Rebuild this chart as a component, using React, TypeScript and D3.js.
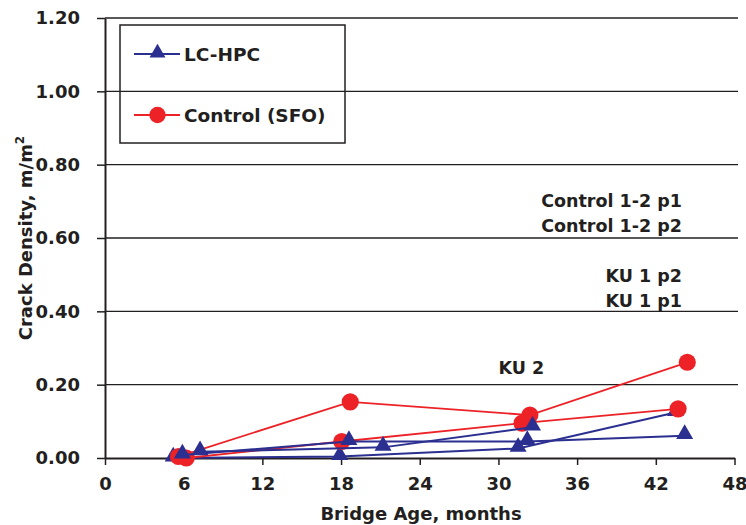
import React, { useRef, useEffect } from "react";
import * as d3 from "d3";

// x ticks (months) and y ticks (crack density)
const monthTicks = [0, 6, 12, 18, 24, 30, 36, 42, 48];
const densityTicks = [0, 0.2, 0.4, 0.6, 0.8, 1.0, 1.2];

// LC-HPC placements
const lcA_months = [5.2, 17.9, 31.5, 43.5];
const lcA_density = [0.0, 0.004, 0.026, 0.124];
const lcB_months = [5.9, 18.6, 32.2, 44.2];
const lcB_density = [0.008, 0.045, 0.045, 0.061];
const lcC_months = [7.25, 21.2, 32.6];
const lcC_density = [0.017, 0.029, 0.084];

// Control (SFO) placements
const ctlA_months = [5.6, 18.7, 32.4, 44.4];
const ctlA_density = [0.004, 0.153, 0.117, 0.261];
const ctlB_months = [6.2, 18.05, 31.8, 43.7];
const ctlB_density = [0.0, 0.045, 0.095, 0.134];

const noteLabels = ["Control 1-2 p1", "Control 1-2 p2", "KU 1 p2", "KU 1 p1", "KU 2"];

const BLUE = "#2b2f8f";
const RED = "#ec2227";
const INK = "#231f20";
const FONT = "'DejaVu Sans', sans-serif";

const zip = (xs: number[], ys: number[]) => xs.map((x, i) => ({ x, y: ys[i] }));

const App = () => {
  const ref = useRef<SVGSVGElement>(null);

  useEffect(() => {
    if (!ref.current) return;
    const svg = d3.select(ref.current);
    svg.selectAll("*").remove();

    const x = d3.scaleLinear().domain([0, 48]).range([105, 734.5]);
    const y = d3.scaleLinear().domain([0, 1.2]).range([458, 18]);

    // gridlines
    svg
      .append("g")
      .selectAll("line")
      .data(densityTicks.slice(1))
      .enter()
      .append("line")
      .attr("x1", x(0))
      .attr("x2", 738)
      .attr("y1", (d) => y(d))
      .attr("y2", (d) => y(d))
      .attr("stroke", INK)
      .attr("stroke-width", 1.4);

    // legend box (gridline shows through it)
    const lg = svg.append("g");
    lg.append("rect")
      .attr("x", 120)
      .attr("y", 25)
      .attr("width", 225)
      .attr("height", 118)
      .attr("fill", "none")
      .attr("stroke", INK)
      .attr("stroke-width", 1.5);
    const legendItems = [
      { name: "LC-HPC", color: BLUE, shape: d3.symbolTriangle, size: 110, cy: 54 },
      { name: "Control (SFO)", color: RED, shape: d3.symbolCircle, size: 210, cy: 115 },
    ];
    legendItems.forEach((it) => {
      lg.append("line")
        .attr("x1", 134)
        .attr("x2", 180)
        .attr("y1", it.cy)
        .attr("y2", it.cy)
        .attr("stroke", it.color)
        .attr("stroke-width", 2);
      lg.append("path")
        .attr("d", d3.symbol().type(it.shape).size(it.size)())
        .attr("transform", `translate(157.5,${it.cy - (it.shape === d3.symbolTriangle ? 1 : 0)})`)
        .attr("fill", it.color);
      lg.append("text")
        .attr("x", 184)
        .attr("y", it.cy)
        .attr("dy", "0.36em")
        .attr("font-family", FONT)
        .attr("font-weight", "bold")
        .attr("font-size", 18.5)
        .attr("fill", INK)
        .text(it.name);
    });

    // axes
    const xAxis = svg
      .append("g")
      .attr("transform", `translate(0,${y(0)})`)
      .call(d3.axisBottom(x).tickValues(monthTicks).tickSize(7).tickSizeOuter(0).tickPadding(12));
    const yAxis = svg
      .append("g")
      .attr("transform", `translate(${x(0)},0)`)
      .call(
        d3
          .axisLeft(y)
          .tickValues(densityTicks)
          .tickSize(8)
          .tickSizeOuter(0)
          .tickPadding(17)
          .tickFormat(d3.format(".2f"))
      );
    [xAxis, yAxis].forEach((a) => {
      a.select(".domain").attr("stroke", INK).attr("stroke-width", 2);
      a.selectAll(".tick line").attr("stroke", INK).attr("stroke-width", 1.5);
      a.selectAll("text")
        .attr("font-family", FONT)
        .attr("font-weight", "bold")
        .attr("font-size", 18)
        .attr("fill", INK);
    });

    // axis titles
    svg
      .append("text")
      .attr("x", 421)
      .attr("y", 520)
      .attr("text-anchor", "middle")
      .attr("font-family", FONT)
      .attr("font-weight", "bold")
      .attr("font-size", 18)
      .attr("fill", INK)
      .text("Bridge Age, months");
    const yt = svg
      .append("text")
      .attr("transform", "translate(32,238) rotate(-90)")
      .attr("text-anchor", "middle")
      .attr("font-family", FONT)
      .attr("font-weight", "bold")
      .attr("font-size", 18)
      .attr("fill", INK);
    yt.append("tspan").text("Crack Density, m/m");
    yt.append("tspan").attr("font-size", 12).attr("dy", -8).text("2");

    // annotations
    const notes = [
      { mx: 44.0, v: 0.684, anchor: "end" },
      { mx: 44.0, v: 0.616, anchor: "end" },
      { mx: 44.0, v: 0.481, anchor: "end" },
      { mx: 44.0, v: 0.413, anchor: "end" },
      { mx: 31.75, v: 0.229, anchor: "middle" },
    ];
    svg
      .append("g")
      .selectAll("text")
      .data(notes)
      .enter()
      .append("text")
      .attr("x", (d) => x(d.mx))
      .attr("y", (d) => y(d.v))
      .attr("text-anchor", (d) => d.anchor)
      .attr("font-family", FONT)
      .attr("font-weight", "bold")
      .attr("font-size", 17.5)
      .attr("fill", INK)
      .text((_, i) => noteLabels[i]);

    // series
    const line = d3
      .line<{ x: number; y: number }>()
      .x((d) => x(d.x))
      .y((d) => y(d.y));
    const series = [
      { pts: zip(lcA_months, lcA_density), color: BLUE, tri: true },
      { pts: zip(ctlA_months, ctlA_density), color: RED, tri: false },
      { pts: zip(ctlB_months, ctlB_density), color: RED, tri: false },
      { pts: zip(lcB_months, lcB_density), color: BLUE, tri: true },
      { pts: zip(lcC_months, lcC_density), color: BLUE, tri: true },
    ];
    series.forEach((s) => {
      const g = svg.append("g");
      g.append("path")
        .attr("d", line(s.pts))
        .attr("fill", "none")
        .attr("stroke", s.color)
        .attr("stroke-width", s.tri ? 2 : 1.8);
      g.selectAll("path.m")
        .data(s.pts)
        .enter()
        .append("path")
        .attr("class", "m")
        .attr("d", d3.symbol().type(s.tri ? d3.symbolTriangle : d3.symbolCircle).size(s.tri ? 125 : 230)())
        .attr("transform", (d) => `translate(${x(d.x)},${y(d.y) + (s.tri ? -1.5 : 0)})`)
        .attr("fill", s.color);
    });
  }, []);

  return (
    <svg
      ref={ref}
      width={746}
      height={525}
      style={{ position: "absolute", left: 0, top: 0, background: "#fff" }}
    />
  );
};

export default App;
